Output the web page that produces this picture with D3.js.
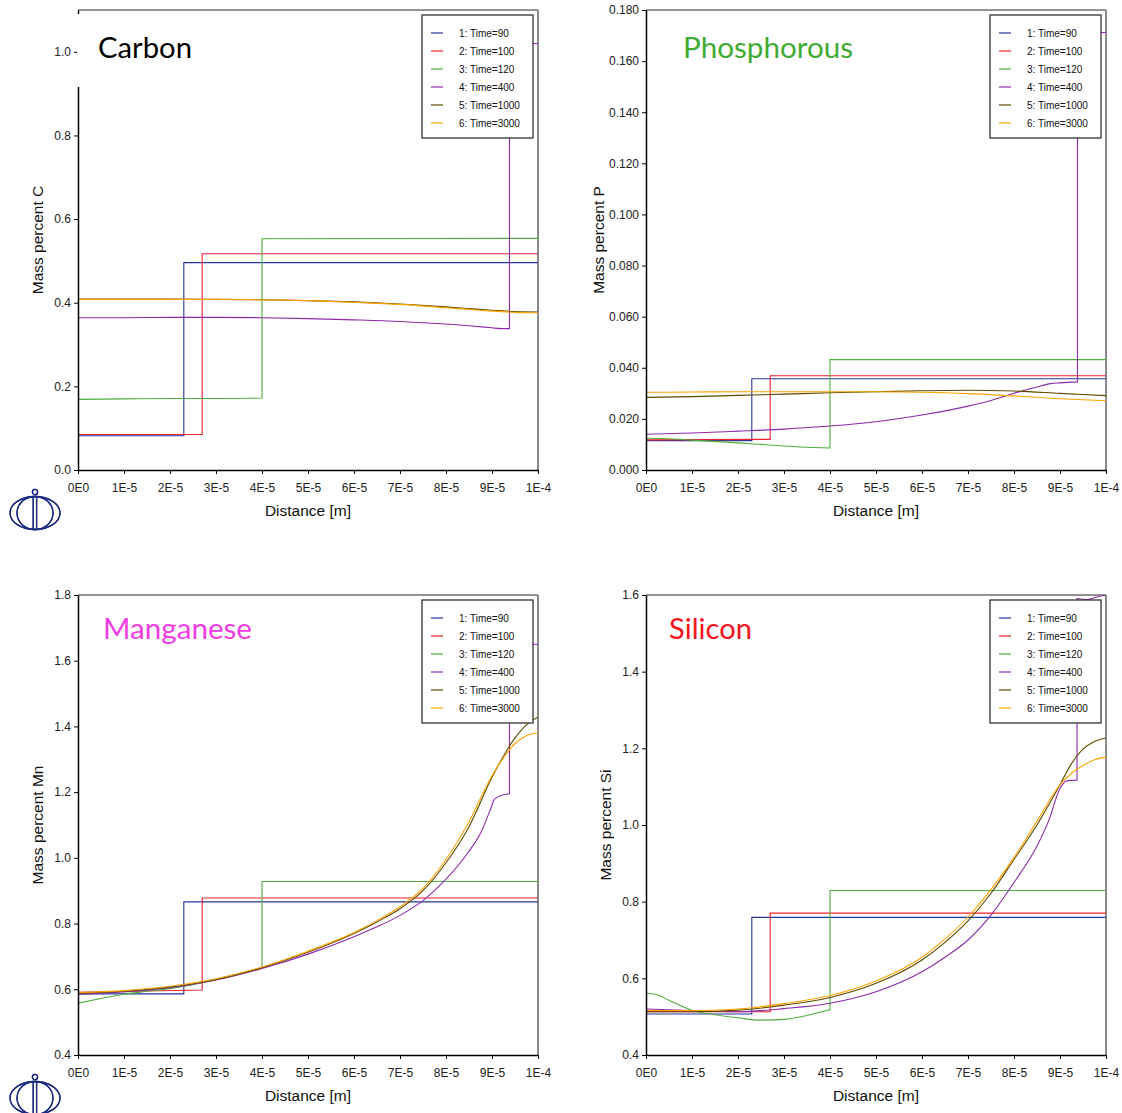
<!DOCTYPE html>
<html><head><meta charset="utf-8">
<script src="https://cdn.jsdelivr.net/npm/d3@7"></script>
<style>body{margin:0;background:#fff;}svg{display:block;}</style>
</head><body>
<svg id="chart" width="1122" height="1113"></svg>
<script>
// ---------- shared ----------
const seriesNames = ["1: Time=90","2: Time=100","3: Time=120","4: Time=400","5: Time=1000","6: Time=3000"];
const seriesColors = ["#27379b","#ef2130","#4fae3c","#8e2bab","#5b4a00","#ffa200"];
const xTicks = [0,1e-5,2e-5,3e-5,4e-5,5e-5,6e-5,7e-5,8e-5,9e-5,1e-4];
const xTickLabels = ["0E0","1E-5","2E-5","3E-5","4E-5","5E-5","6E-5","7E-5","8E-5","9E-5","1E-4"];

// ---------- Carbon ----------
const cTicks = [0,0.2,0.4,0.6,0.8,1.0];
const cTickLabels = ["0.0","0.2","0.4","0.6","0.8","1.0"];
const cBlue = [[0,0.082],[2.3e-5,0.082],[2.3e-5,0.496],[1e-4,0.496]];
const cRed = [[0,0.085],[2.7e-5,0.085],[2.7e-5,0.517],[1e-4,0.517]];
const cGreen = [[0,0.169],[1e-5,0.170],[2e-5,0.171],[3e-5,0.171],[4e-5,0.172],[4e-5,0.553],[1e-4,0.554]];
const cPurple = [[0,0.364],[1e-5,0.364],[2e-5,0.365],[3e-5,0.365],[4e-5,0.364],[5e-5,0.362],[6e-5,0.359],[7e-5,0.355],[7.5e-5,0.352],[8e-5,0.349],[8.5e-5,0.345],[9e-5,0.340],[9.2e-5,0.338],[9.38e-5,0.338],[9.38e-5,1.018],[1e-4,1.020]];
const cOlive = [[0,0.409],[1e-5,0.409],[2e-5,0.409],[3e-5,0.408],[4e-5,0.407],[5e-5,0.405],[6e-5,0.402],[7e-5,0.397],[8e-5,0.390],[8.5e-5,0.386],[9e-5,0.382],[9.5e-5,0.379],[1e-4,0.378]];
const cOrange = [[0,0.408],[1e-5,0.408],[2e-5,0.408],[3e-5,0.408],[4e-5,0.407],[5e-5,0.405],[6e-5,0.401],[7e-5,0.396],[8e-5,0.388],[8.5e-5,0.384],[9e-5,0.380],[9.5e-5,0.377],[1e-4,0.376]];

// ---------- Phosphorous ----------
const pTicks = [0,0.02,0.04,0.06,0.08,0.10,0.12,0.14,0.16,0.18];
const pTickLabels = ["0.000","0.020","0.040","0.060","0.080","0.100","0.120","0.140","0.160","0.180"];
const pBlue = [[0,0.0115],[2.3e-5,0.0115],[2.3e-5,0.0357],[1e-4,0.0357]];
const pRed = [[0,0.0118],[2.7e-5,0.0120],[2.7e-5,0.0369],[1e-4,0.0369]];
const pGreen = [[0,0.0124],[0.5e-5,0.0122],[1e-5,0.0117],[2e-5,0.0106],[3e-5,0.0094],[3.5e-5,0.0089],[4e-5,0.0086],[4e-5,0.0432],[1e-4,0.0432]];
const pPurple = [[0,0.0140],[1e-5,0.0145],[2e-5,0.0152],[3e-5,0.0160],[4e-5,0.0172],[5e-5,0.0189],[6e-5,0.0215],[7e-5,0.0250],[7.5e-5,0.0272],[8e-5,0.0300],[8.5e-5,0.0325],[8.8e-5,0.0338],[9e-5,0.0341],[9.38e-5,0.0345],[9.38e-5,0.1710],[1e-4,0.1712]];
const pOlive = [[0,0.0284],[1e-5,0.0287],[2e-5,0.0292],[3e-5,0.0297],[4e-5,0.0302],[5e-5,0.0306],[6e-5,0.0310],[7e-5,0.0312],[8e-5,0.0309],[9e-5,0.0300],[1e-4,0.0291]];
const pOrange = [[0,0.0304],[1e-5,0.0305],[2e-5,0.0306],[3e-5,0.0306],[4e-5,0.0306],[5e-5,0.0306],[6e-5,0.0304],[7e-5,0.0299],[8e-5,0.0290],[9e-5,0.0279],[1e-4,0.0271]];

// ---------- Manganese ----------
const mTicks = [0.4,0.6,0.8,1.0,1.2,1.4,1.6,1.8];
const mTickLabels = ["0.4","0.6","0.8","1.0","1.2","1.4","1.6","1.8"];
const mBlue = [[0,0.586],[2.3e-5,0.586],[2.3e-5,0.866],[1e-4,0.866]];
const mRed = [[0,0.591],[2.7e-5,0.598],[2.7e-5,0.878],[1e-4,0.878]];
const mGreen = [[0,0.558],[0.5e-5,0.572],[1e-5,0.585],[1.5e-5,0.594],[2e-5,0.602],[2.5e-5,0.614],[3e-5,0.630],[3.5e-5,0.648],[4e-5,0.665],[4e-5,0.928],[1e-4,0.928]];
const mPurple = [[0,0.585],[1e-5,0.592],[2e-5,0.605],[3e-5,0.628],[4e-5,0.663],[5e-5,0.707],[6e-5,0.760],[6.5e-5,0.790],[7e-5,0.825],[7.5e-5,0.870],[8e-5,0.935],[8.5e-5,1.020],[8.75e-5,1.075],[9e-5,1.160],[9.05e-5,1.178],[9.25e-5,1.192],[9.38e-5,1.195],[9.38e-5,1.648],[1e-4,1.650]];
const mOlive = [[0,0.588],[1e-5,0.594],[2e-5,0.607],[3e-5,0.630],[4e-5,0.666],[5e-5,0.713],[6e-5,0.770],[6.5e-5,0.805],[7e-5,0.845],[7.5e-5,0.900],[8e-5,0.985],[8.5e-5,1.095],[9e-5,1.245],[9.25e-5,1.310],[9.5e-5,1.365],[9.75e-5,1.405],[1e-4,1.428]];
const mOrange = [[0,0.590],[1e-5,0.596],[2e-5,0.609],[3e-5,0.632],[4e-5,0.668],[5e-5,0.716],[6e-5,0.773],[6.5e-5,0.809],[7e-5,0.851],[7.5e-5,0.907],[8e-5,0.995],[8.5e-5,1.110],[9e-5,1.250],[9.25e-5,1.305],[9.5e-5,1.348],[9.75e-5,1.372],[1e-4,1.380]];

// ---------- Silicon ----------
const sTicks = [0.4,0.6,0.8,1.0,1.2,1.4,1.6];
const sTickLabels = ["0.4","0.6","0.8","1.0","1.2","1.4","1.6"];
const sBlue = [[0,0.507],[2.3e-5,0.507],[2.3e-5,0.759],[1e-4,0.759]];
const sRed = [[0,0.513],[2.7e-5,0.513],[2.7e-5,0.770],[1e-4,0.770]];
const sGreen = [[0,0.561],[0.25e-5,0.557],[0.5e-5,0.543],[1e-5,0.517],[1.5e-5,0.505],[2e-5,0.497],[2.5e-5,0.491],[3e-5,0.493],[3.5e-5,0.503],[3.8e-5,0.512],[4e-5,0.518],[4e-5,0.829],[1e-4,0.829]];
const sPurple = [[0,0.520],[1e-5,0.516],[2e-5,0.513],[3e-5,0.521],[4e-5,0.535],[5e-5,0.565],[6e-5,0.617],[6.5e-5,0.655],[7e-5,0.700],[7.5e-5,0.765],[8e-5,0.850],[8.5e-5,0.945],[8.75e-5,1.010],[9e-5,1.095],[9.15e-5,1.115],[9.37e-5,1.117],[9.37e-5,1.591],[9.6e-5,1.588],[9.8e-5,1.595],[1e-4,1.600]];
const sOlive = [[0,0.513],[1e-5,0.513],[2e-5,0.517],[3e-5,0.530],[4e-5,0.550],[5e-5,0.587],[6e-5,0.648],[6.5e-5,0.694],[7e-5,0.750],[7.5e-5,0.822],[8e-5,0.910],[8.5e-5,1.000],[9e-5,1.105],[9.25e-5,1.160],[9.5e-5,1.198],[9.75e-5,1.218],[1e-4,1.227]];
const sOrange = [[0,0.516],[1e-5,0.516],[2e-5,0.520],[3e-5,0.534],[4e-5,0.555],[5e-5,0.593],[6e-5,0.655],[6.5e-5,0.703],[7e-5,0.760],[7.5e-5,0.832],[8e-5,0.915],[8.5e-5,1.010],[9e-5,1.105],[9.25e-5,1.135],[9.5e-5,1.155],[9.75e-5,1.170],[1e-4,1.177]];

const panels = [
  {left:78, top:10, ymin:0, ymax:1.1, ticks:cTicks, labels:cTickLabels, ylabel:"Mass percent C", ylx:-39,
   title:"Carbon", tcolor:"#000000", tdx:20, tdy:48, tlen:94, mask:true,
   series:[cBlue,cRed,cGreen,cPurple,cOlive,cOrange]},
  {left:646, top:10, ymin:0, ymax:0.18, ticks:pTicks, labels:pTickLabels, ylabel:"Mass percent P", ylx:-46,
   title:"Phosphorous", tcolor:"#3fab35", tdx:37, tdy:48, tlen:170, mask:false,
   series:[pBlue,pRed,pGreen,pPurple,pOlive,pOrange]},
  {left:78, top:595, ymin:0.4, ymax:1.8, ticks:mTicks, labels:mTickLabels, ylabel:"Mass percent Mn", ylx:-39,
   title:"Manganese", tcolor:"#f23de2", tdx:25, tdy:44, tlen:149, mask:false,
   series:[mBlue,mRed,mGreen,mPurple,mOlive,mOrange]},
  {left:646, top:595, ymin:0.4, ymax:1.6, ticks:sTicks, labels:sTickLabels, ylabel:"Mass percent Si", ylx:-39,
   title:"Silicon", tcolor:"#f5141c", tdx:23, tdy:44, tlen:83, mask:false,
   series:[sBlue,sRed,sGreen,sPurple,sOlive,sOrange]}
];

const W = 460, H = 460;
const svg = d3.select("#chart");
const FONT = "Liberation Sans, Arial, sans-serif";

// smooth path: monotone curve within runs of increasing x, vertical jumps between runs
function stepSmoothPath(data, x, y) {
  const runs = [];
  let cur = [data[0]];
  for (let i = 1; i < data.length; i++) {
    if (data[i][0] > cur[cur.length - 1][0]) cur.push(data[i]);
    else { runs.push(cur); cur = [data[i]]; }
  }
  runs.push(cur);
  const gen = d3.line().x(d => x(d[0])).y(d => y(d[1])).curve(d3.curveMonotoneX);
  return runs.map((r, i) => {
    const s = r.length > 1 ? gen(r) : `M${x(r[0][0])},${y(r[0][1])}`;
    return i === 0 ? s : "L" + s.slice(1);
  }).join("");
}

panels.forEach((p, pi) => {
  const g = svg.append("g").attr("transform", `translate(${p.left},${p.top})`);
  const x = d3.scaleLinear().domain([0, 1e-4]).range([0, W]);
  const y = d3.scaleLinear().domain([p.ymin, p.ymax]).range([H, 0]);

  const clipId = "clip" + pi;
  g.append("clipPath").attr("id", clipId).append("rect")
    .attr("x", 0).attr("y", 0).attr("width", W).attr("height", H);

  // frame top/right
  g.append("line").attr("x1", 0).attr("x2", W).attr("y1", 0).attr("y2", 0)
    .attr("stroke", "#6e6e6e").attr("stroke-width", 1.6);
  g.append("line").attr("x1", W).attr("x2", W).attr("y1", 0).attr("y2", H)
    .attr("stroke", "#6e6e6e").attr("stroke-width", 1.6);

  // data
  const dg = g.append("g").attr("clip-path", `url(#${clipId})`);
  p.series.forEach((s, i) => {
    dg.append("path").attr("d", stepSmoothPath(s, x, y)).attr("fill", "none")
      .attr("stroke", seriesColors[i]).attr("stroke-width", 1.1);
  });

  // axes
  const ax = g.append("g").attr("transform", `translate(0,${H})`)
    .call(d3.axisBottom(x).tickValues(xTicks).tickFormat((d, i) => xTickLabels[i])
      .tickSizeInner(4).tickSizeOuter(0).tickPadding(9));
  const ay = g.append("g")
    .call(d3.axisLeft(y).tickValues(p.ticks).tickFormat((d, i) => p.labels[i])
      .tickSizeInner(4).tickSizeOuter(0).tickPadding(3));
  [ax, ay].forEach(a => {
    a.select(".domain").attr("stroke", "#000").attr("stroke-width", 1.5);
    a.selectAll(".tick line").attr("stroke", "#000").attr("stroke-width", 1);
    a.selectAll(".tick text").attr("font-family", FONT).attr("font-size", 12).attr("fill", "#222");
  });

  // axis titles
  g.append("text").attr("transform", `translate(${p.ylx},${H/2}) rotate(-90)`)
    .attr("text-anchor", "middle").attr("dominant-baseline", "middle")
    .attr("font-family", FONT).attr("font-size", 15.5)
    .attr("fill", "#111").text(p.ylabel);
  g.append("text").attr("x", W/2).attr("y", H + 46)
    .attr("text-anchor", "middle").attr("font-family", FONT).attr("font-size", 15.5)
    .attr("fill", "#111").text("Distance [m]");

  // mask behind title (Carbon)
  if (p.mask) {
    g.append("rect").attr("x", -1).attr("y", 4).attr("width", 125).attr("height", 73).attr("fill", "#fff");
  }
  g.append("text").attr("x", p.tdx).attr("y", p.tdy)
    .attr("font-family", "Lato, 'Open Sans', sans-serif").attr("font-size", 29)
    .attr("textLength", p.tlen).attr("lengthAdjust", "spacingAndGlyphs")
    .attr("fill", p.tcolor).text(p.title);

  // legend
  const lg = g.append("g").attr("transform", `translate(${W - 116},5)`);
  lg.append("rect").attr("x", 0).attr("y", 0).attr("width", 111).attr("height", 123)
    .attr("fill", "#fff").attr("stroke", "#333").attr("stroke-width", 1.3);
  seriesNames.forEach((n, i) => {
    const yy = 18 + 18 * i;
    lg.append("line").attr("x1", 9).attr("x2", 21).attr("y1", yy).attr("y2", yy)
      .attr("stroke", seriesColors[i]).attr("stroke-width", 1.2);
    lg.append("text").attr("x", 37).attr("y", yy + 3.5).attr("font-family", FONT)
      .attr("font-size", 10).attr("fill", "#111").text(n);
  });

  // logo
  const lx = 35 - p.left, ly = H + 43;
  const logo = g.append("g").attr("transform", `translate(${lx},${ly})`)
    .attr("fill", "none").attr("stroke", "#1d2a80").attr("stroke-width", 1.3);
  logo.append("ellipse").attr("cx", 0).attr("cy", 0).attr("rx", 25).attr("ry", 16.5);
  logo.append("ellipse").attr("cx", 0).attr("cy", 0).attr("rx", 18).attr("ry", 16.5);
  logo.append("line").attr("x1", -1.8).attr("x2", -1.8).attr("y1", -16.5).attr("y2", 16.5);
  logo.append("line").attr("x1", 1.6).attr("x2", 1.6).attr("y1", -16.5).attr("y2", 16.5);
  logo.append("circle").attr("cx", 0).attr("cy", -21).attr("r", 2.6);
});
</script>
</body></html>
